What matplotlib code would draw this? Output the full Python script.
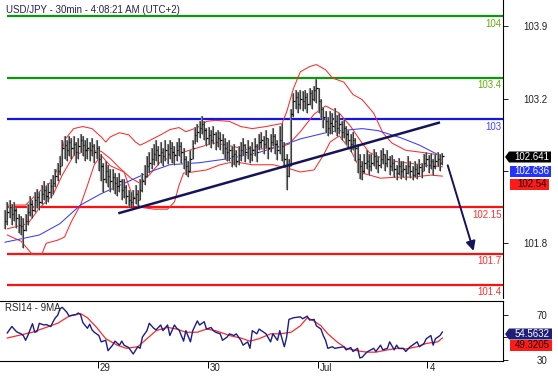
import matplotlib
matplotlib.use('Agg')
import matplotlib.pyplot as plt
import matplotlib.transforms as mtransforms
from matplotlib.patches import Polygon

plt.rcParams['font.family'] = ['Liberation Sans', 'DejaVu Sans']
plt.rcParams['font.size'] = 7

title = 'USD/JPY - 30min - 4:08:21 AM (UTC+2)'

# 30 min bars, oldest first
closes = [102.02, 102.10, 102.15, 102.08, 102.12, 102.04, 101.98, 101.97, 101.93, 102.02,
          102.10, 102.18, 102.12, 102.22, 102.25, 102.20, 102.28, 102.32, 102.26, 102.30,
          102.35, 102.38, 102.45, 102.50, 102.55, 102.72, 102.75, 102.70, 102.78, 102.72,
          102.76, 102.68, 102.74, 102.80, 102.75, 102.70, 102.72, 102.70, 102.74, 102.68,
          102.72, 102.62, 102.55, 102.42, 102.50, 102.45, 102.40, 102.44, 102.38, 102.35,
          102.40, 102.32, 102.34, 102.26, 102.22, 102.20, 102.24, 102.28, 102.22, 102.32,
          102.40, 102.45, 102.55, 102.58, 102.62, 102.66, 102.70, 102.65, 102.68, 102.64,
          102.70, 102.66, 102.72, 102.68, 102.65, 102.70, 102.74, 102.68, 102.62, 102.55,
          102.50, 102.62, 102.72, 102.85, 102.88, 102.92, 102.95, 102.90, 102.82, 102.85,
          102.80, 102.86, 102.78, 102.82, 102.80, 102.76, 102.72, 102.68, 102.70, 102.64,
          102.66, 102.60, 102.65, 102.70, 102.75, 102.68, 102.72, 102.66, 102.70, 102.74,
          102.68, 102.78, 102.80, 102.76, 102.82, 102.72, 102.78, 102.84, 102.76, 102.70,
          102.80, 102.74, 102.62, 102.45, 102.55, 103.05, 103.18, 103.22, 103.15, 103.20,
          103.18, 103.22, 103.15, 103.25, 103.20, 103.28, 103.30, 103.18, 103.10, 103.02,
          102.98, 102.92, 102.96, 102.94, 102.98, 102.92, 102.95, 102.88, 102.92, 102.86,
          102.80, 102.76, 102.80, 102.72, 102.62, 102.55, 102.50, 102.58, 102.60, 102.55,
          102.58, 102.64, 102.60, 102.56, 102.62, 102.66, 102.58, 102.62, 102.55, 102.58,
          102.52, 102.48, 102.55, 102.50, 102.52, 102.48, 102.55, 102.50, 102.46, 102.52,
          102.48, 102.54, 102.50, 102.58, 102.62, 102.56, 102.60, 102.55, 102.60, 102.62,
          102.58, 102.641]
highs = [102.12, 102.20, 102.22, 102.18, 102.20, 102.14, 102.08, 102.06, 102.04, 102.08,
         102.18, 102.26, 102.22, 102.30, 102.33, 102.30, 102.36, 102.40, 102.35, 102.38,
         102.42, 102.46, 102.52, 102.58, 102.64, 102.80, 102.84, 102.80, 102.84, 102.82,
         102.84, 102.78, 102.82, 102.86, 102.84, 102.80, 102.82, 102.78, 102.82, 102.76,
         102.80, 102.74, 102.66, 102.58, 102.60, 102.56, 102.52, 102.52, 102.48, 102.44,
         102.48, 102.42, 102.42, 102.36, 102.32, 102.30, 102.32, 102.36, 102.32, 102.42,
         102.48, 102.56, 102.64, 102.68, 102.72, 102.76, 102.80, 102.74, 102.78, 102.72,
         102.80, 102.76, 102.80, 102.78, 102.74, 102.78, 102.82, 102.78, 102.72, 102.64,
         102.60, 102.70, 102.80, 102.93, 102.95, 102.98, 103.03, 102.98, 102.92, 102.93,
         102.90, 102.94, 102.88, 102.90, 102.88, 102.86, 102.82, 102.78, 102.80, 102.74,
         102.76, 102.70, 102.74, 102.78, 102.82, 102.76, 102.80, 102.74, 102.78, 102.82,
         102.76, 102.86, 102.88, 102.84, 102.90, 102.82, 102.86, 102.92, 102.86, 102.80,
         102.94, 102.96, 102.78, 102.66, 102.62, 103.10, 103.25, 103.28, 103.26, 103.28,
         103.27, 103.28, 103.25, 103.30, 103.28, 103.32, 103.39, 103.30, 103.20, 103.12,
         103.08, 103.02, 103.08, 103.06, 103.11, 103.04, 103.06, 102.98, 103.00, 102.94,
         102.90, 102.86, 102.88, 102.82, 102.76, 102.66, 102.60, 102.66, 102.70, 102.66,
         102.66, 102.71, 102.68, 102.64, 102.70, 102.72, 102.66, 102.70, 102.64, 102.65,
         102.62, 102.56, 102.63, 102.60, 102.60, 102.56, 102.64, 102.60, 102.55, 102.60,
         102.57, 102.62, 102.58, 102.66, 102.68, 102.65, 102.67, 102.62, 102.66, 102.68,
         102.66, 102.67]
lows = [101.94, 101.98, 102.04, 101.98, 102.02, 101.95, 101.90, 101.88, 101.75, 101.92,
        101.98, 102.06, 102.04, 102.10, 102.14, 102.12, 102.18, 102.22, 102.18, 102.20,
        102.24, 102.28, 102.34, 102.40, 102.46, 102.55, 102.62, 102.60, 102.64, 102.62,
        102.65, 102.58, 102.62, 102.68, 102.64, 102.60, 102.62, 102.60, 102.64, 102.58,
        102.62, 102.50, 102.40, 102.30, 102.38, 102.34, 102.30, 102.32, 102.28, 102.26,
        102.30, 102.22, 102.24, 102.18, 102.15, 102.15, 102.16, 102.18, 102.15, 102.22,
        102.30, 102.36, 102.44, 102.48, 102.52, 102.56, 102.60, 102.56, 102.58, 102.55,
        102.60, 102.57, 102.62, 102.58, 102.56, 102.60, 102.64, 102.58, 102.52, 102.46,
        102.44, 102.50, 102.62, 102.76, 102.78, 102.82, 102.86, 102.80, 102.74, 102.76,
        102.72, 102.76, 102.70, 102.73, 102.70, 102.66, 102.62, 102.60, 102.60, 102.54,
        102.56, 102.54, 102.56, 102.60, 102.65, 102.59, 102.62, 102.58, 102.60, 102.64,
        102.59, 102.70, 102.72, 102.66, 102.72, 102.62, 102.68, 102.74, 102.66, 102.61,
        102.66, 102.60, 102.55, 102.32, 102.44, 102.55, 103.02, 103.10, 103.06, 103.10,
        103.08, 103.10, 103.06, 103.14, 103.10, 103.18, 103.16, 103.06, 103.00, 102.92,
        102.88, 102.84, 102.86, 102.86, 102.88, 102.84, 102.86, 102.80, 102.82, 102.76,
        102.72, 102.68, 102.70, 102.60, 102.48, 102.42, 102.41, 102.48, 102.52, 102.46,
        102.50, 102.55, 102.52, 102.48, 102.53, 102.57, 102.50, 102.54, 102.46, 102.50,
        102.44, 102.41, 102.46, 102.42, 102.44, 102.41, 102.47, 102.43, 102.41, 102.44,
        102.42, 102.46, 102.43, 102.50, 102.54, 102.48, 102.52, 102.46, 102.52, 102.55,
        102.50, 102.56]

# Bollinger bands and the long moving average (bar number, value)
bb_up_bar = [1, 9, 15, 21, 24, 26, 30, 34, 38, 42, 44, 46, 50, 54, 57, 59, 61, 68, 72, 76,
             79, 84, 88, 92, 98, 103, 108, 114, 121, 123, 126, 129, 133, 136, 140, 143, 148,
             152, 156, 161, 165, 169, 175, 182, 191]
bb_up = [102.17, 102.17, 102.30, 102.41, 102.59, 102.80, 102.91, 102.93, 102.91, 102.83,
         102.78, 102.83, 102.87, 102.85, 102.78, 102.75, 102.77, 102.85, 102.90, 102.92,
         102.88, 102.92, 102.98, 102.99, 102.98, 102.93, 102.91, 102.93, 102.96, 103.07,
         103.30, 103.46, 103.51, 103.53, 103.48, 103.40, 103.36, 103.24, 103.19, 103.06,
         102.87, 102.77, 102.70, 102.68, 102.65]
bb_mid_bar = [1, 10, 15, 21, 25, 30, 36, 42, 46, 50, 55, 59, 63, 68, 74, 79, 85, 91, 97,
              103, 108, 114, 120, 124, 129, 135, 140, 146, 151, 155, 159, 164, 171, 182, 191]
bb_mid = [101.94, 101.99, 102.14, 102.27, 102.46, 102.65, 102.70, 102.69, 102.62, 102.53,
          102.43, 102.38, 102.46, 102.59, 102.65, 102.69, 102.73, 102.77, 102.75, 102.72,
          102.70, 102.72, 102.73, 102.76, 102.88, 103.05, 103.13, 103.06, 102.93, 102.80,
          102.68, 102.63, 102.59, 102.56, 102.54]
bb_low_bar = [1, 7, 12, 16, 18, 23, 26, 29, 33, 36, 39, 42, 46, 52, 55, 59, 65, 71, 74, 76,
              78, 82, 88, 94, 100, 108, 117, 123, 129, 135, 139, 142, 146, 151, 156, 164,
              171, 178, 186, 191]
bb_low = [101.88, 101.82, 101.69, 101.69, 101.80, 101.83, 101.86, 102.01, 102.17, 102.36,
          102.56, 102.65, 102.55, 102.49, 102.30, 102.15, 102.13, 102.13, 102.20, 102.36,
          102.48, 102.49, 102.51, 102.56, 102.59, 102.56, 102.56, 102.53, 102.49, 102.51,
          102.65, 102.78, 102.84, 102.70, 102.48, 102.43, 102.44, 102.44, 102.46, 102.45]
ma_bar = [0, 15, 24, 33, 42, 50, 63, 72, 85, 98, 111, 120, 129, 142, 156, 163, 173, 181, 191]
ma_val = [101.81, 101.88, 101.99, 102.17, 102.28, 102.36, 102.49, 102.56, 102.58, 102.62,
          102.68, 102.74, 102.81, 102.88, 102.91, 102.89, 102.82, 102.75, 102.636]

# levels drawn on the chart
levels = [104, 103.4, 103, 102.15, 101.7, 101.4]
level_labels = ['104', '103.4', '103', '102.15', '101.7', '101.4']
level_kind = ['res', 'res', 'pivot', 'sup', 'sup', 'sup']

trend_bar = [49.5, 190]
trend_val = [102.09, 102.97]
target_bar = [193, 205]
target_val = [102.58, 101.70]

# RSI14 and its 9 period average (bar number, value)
rsi_bar = [1, 3, 5, 7, 8, 9, 10, 12, 13, 14, 15, 17, 18, 20, 21, 22, 23, 24, 25, 27, 28,
           29, 31, 32, 33, 34, 36, 37, 38, 39, 41, 42, 44, 45, 47, 48, 50, 51, 52, 54, 55,
           56, 58, 59, 60, 62, 63, 65, 66, 68, 69, 71, 72, 74, 75, 76, 78, 79, 81, 82, 84,
           85, 87, 88, 90, 91, 92, 94, 95, 97, 98, 100, 101, 103, 104, 106, 107, 108, 110,
           111, 113, 114, 116, 117, 119, 120, 122, 123, 124, 126, 129, 130, 132, 133, 135,
           136, 138, 139, 140, 141, 143, 144, 146, 148, 149, 151, 152, 154, 155, 156, 158,
           159, 161, 162, 164, 165, 167, 168, 170, 171, 172, 174, 175, 177, 178, 180, 181,
           183, 184, 186, 187, 188, 190, 191]
rsi_val = [53.8, 59.5, 54.9, 53.0, 51.5, 47.3, 51.5, 62.0, 54.4, 55.1, 62.3, 60.8, 61.2,
           59.4, 63.7, 67.2, 69.3, 75.0, 76.4, 72.1, 68.6, 69.3, 70.0, 71.4, 70.0, 62.9,
           57.9, 61.5, 56.5, 54.4, 51.5, 45.9, 47.3, 38.1, 43.0, 46.6, 43.0, 46.6, 43.0,
           40.9, 38.1, 35.2, 41.6, 40.2, 50.1, 55.8, 62.3, 57.9, 56.5, 60.8, 55.8, 60.8,
           51.5, 60.8, 57.9, 56.5, 46.6, 55.8, 45.9, 55.8, 64.4, 60.8, 63.7, 57.2, 58.6,
           55.8, 54.4, 53.0, 47.3, 50.1, 53.0, 51.5, 53.0, 47.3, 43.0, 45.9, 40.2, 55.8,
           53.0, 57.2, 54.4, 53.0, 45.9, 53.0, 47.3, 55.8, 41.6, 50.1, 65.7, 67.2, 68.0,
           66.3, 68.6, 65.2, 65.7, 60.1, 57.2, 51.5, 47.3, 40.2, 41.6, 40.2, 40.9, 41.6,
           38.8, 40.9, 37.4, 40.2, 31.7, 32.3, 36.8, 37.9, 40.2, 37.4, 43.0, 38.8, 40.2,
           45.9, 38.8, 43.0, 40.2, 40.2, 37.4, 41.6, 43.0, 45.9, 41.6, 44.5, 48.7, 51.5,
           43.0, 48.7, 51.5, 54.5632]
rsi_ma_bar = [1, 7, 12, 18, 23, 28, 33, 36, 40, 44, 49, 53, 58, 62, 66, 71, 75, 79, 84,
              88, 92, 96, 98, 103, 107, 111, 116, 120, 125, 129, 132, 135, 138, 141, 145,
              149, 154, 158, 162, 167, 171, 175, 180, 184, 189, 191]
rsi_ma = [49.3, 52.1, 54.4, 58.7, 62.3, 68.6, 70.9, 67.2, 58.7, 48.7, 43.0, 40.2, 41.6,
          48.7, 55.8, 58.7, 57.2, 54.4, 54.4, 57.2, 55.8, 53.0, 51.5, 49.3, 46.5, 48.7,
          53.0, 53.0, 54.4, 60.1, 67.2, 64.3, 60.1, 53.0, 45.9, 40.2, 38.0, 36.8, 36.8,
          38.8, 40.2, 39.6, 41.6, 44.5, 45.9, 49.3205]

day_bar = [40.5, 88.5, 136.5, 184.5]
day_labels = ['29', '30', 'Jul', '4']

# colours
green, green_txt = '#0a990a', '#6aaa10'
blue, blue_txt = '#1414e6', '#4444ff'
red, red_txt = '#ff1010', '#ff3030'
navy = '#14145a'
kind_style = {'res': (green, green_txt), 'pivot': (blue, blue_txt), 'sup': (red, red_txt)}

W, H = 558, 376
fig = plt.figure(figsize=(W / 100, H / 100), dpi=100)
ax = fig.add_axes([0, 1 - 298 / H, 503 / W, 298 / H])
ax_rsi = fig.add_axes([0, 1 - 361 / H, 503 / W, 60 / H])

x_left, x_right = -2.18, 217.5

# --- price panel ---
bars = list(range(len(closes)))
for lvl, lab, kind in zip(levels, level_labels, level_kind):
    lc, tc = kind_style[kind]
    ax.hlines(lvl, 0.9, x_right, colors=lc, lw=1.6, zorder=1)
    ax.annotate(lab, xy=(1, lvl), xycoords=mtransforms.blended_transform_factory(ax.transAxes, ax.transData),
                xytext=(-0.8, -1.8), textcoords='offset points', ha='right', va='top', color=tc)

ax.plot(bb_up_bar, bb_up, color='#ff2a2a', lw=0.75, zorder=2)
ax.plot(bb_mid_bar, bb_mid, color='#ff2a2a', lw=0.75, zorder=2)
ax.plot(bb_low_bar, bb_low, color='#ff2a2a', lw=0.75, zorder=2)
ax.plot(ma_bar, ma_val, color='#3a3aff', lw=0.75, zorder=2)

ax.vlines(bars, lows, highs, colors='#8a8a8a', lw=1.6, zorder=3)
ax.vlines(bars, lows, highs, colors='#1e1e1e', lw=0.5, zorder=4)
ax.hlines(closes, bars, [b + 0.6 for b in bars], colors='k', lw=0.9, zorder=4)

ax.plot(trend_bar, trend_val, color=navy, lw=1.8, zorder=5, solid_capstyle='butt')
ax.annotate('', xy=(target_bar[1], target_val[1]), xytext=(target_bar[0], target_val[0]),
            arrowprops=dict(arrowstyle='-|>', color=navy, lw=1.4, mutation_scale=14), zorder=5)

ax.set_xlim(x_left, x_right)
ax.set_ylim(101.27, 104.155)
ax.set_xticks([])
for s in ['left', 'top', 'bottom']:
    ax.spines[s].set_visible(False)
ax.spines['right'].set_linewidth(0.8)
ax.yaxis.tick_right()
ax.set_yticks([101.8, 102.5, 103.2, 103.9])
ax.set_yticklabels(['101.8', '', '103.2', '103.9'])
ax.tick_params(axis='y', direction='out', length=3.6, width=0.7, pad=28.5, colors='#222222')
for t in ax.get_yticklabels():
    t.set_horizontalalignment('right')

# --- RSI panel ---
ax_rsi.plot(rsi_ma_bar, rsi_ma, color='#ff2a2a', lw=0.9)
ax_rsi.plot(rsi_bar, rsi_val, color='#1c1c8c', lw=1.0)
ax_rsi.set_xlim(x_left, x_right)
ax_rsi.set_ylim(29, 82)
ax_rsi.spines['left'].set_visible(False)
for s in ['top', 'bottom', 'right']:
    ax_rsi.spines[s].set_linewidth(0.8)
ax_rsi.yaxis.tick_right()
ax_rsi.set_yticks([30, 50, 70])
ax_rsi.set_yticklabels(['30', '', '70'])
ax_rsi.tick_params(axis='y', direction='out', length=3.6, width=0.7, pad=28.5, colors='#222222')
for t in ax_rsi.get_yticklabels():
    t.set_horizontalalignment('right')
ax_rsi.set_xticks(day_bar)
ax_rsi.set_xticklabels([])
ax_rsi.tick_params(axis='x', direction='out', length=5, width=0.7)
day_tr = mtransforms.blended_transform_factory(ax_rsi.transData, ax_rsi.transAxes)
for b, lab in zip(day_bar, day_labels):
    ax_rsi.text(b + 1.0, -0.03, lab, transform=day_tr, ha='left', va='top', color='#222222')
ax_rsi.text(0.01, 0.96, 'RSI14 - 9MA', transform=ax_rsi.transAxes, ha='left', va='top', color='#222222')

fig.text(6 / W, 1 - 10 / H, title, ha='left', va='center', color='#2a2050')


# --- value tags right of the axis (pixel layout) ---
def tag(yc, x0, x1, face, text, tcolor, point=False):
    h = 5.5
    if point:
        pts = [(x0 - 4, yc), (x0, yc - h), (x1, yc - h), (x1, yc + h), (x0, yc + h)]
    else:
        pts = [(x0, yc - h), (x1, yc - h), (x1, yc + h), (x0, yc + h)]
    pts = [(px / W, 1 - py / H) for px, py in pts]
    fig.patches.append(Polygon(pts, closed=True, transform=fig.transFigure,
                               facecolor=face, edgecolor='none', zorder=10))
    fig.text((x1 - 2) / W, 1 - yc / H, text, ha='right', va='center', color=tcolor,
             zorder=11)


tag(157, 509, 551, '#000000', f'{closes[-1]:.3f}', 'white', point=True)
tag(171, 510, 551, '#2233ff', f'{ma_val[-1]:.3f}', 'white')
tag(184, 510, 549, '#ff1a1a', f'{bb_mid[-1]:.2f}', '#200000')
tag(334, 509, 552, '#1f1f7a', f'{rsi_val[-1]:.4f}', 'white', point=True)
tag(345.5, 510, 552, '#ff1a1a', f'{rsi_ma[-1]:.4f}', '#200000')

fig.savefig('out.png', dpi=100)
